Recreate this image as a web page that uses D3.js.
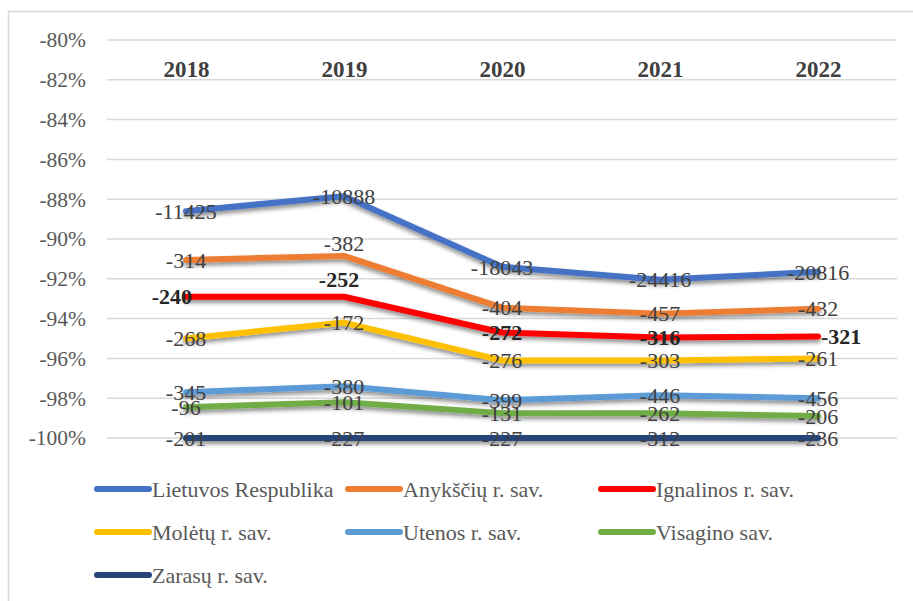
<!DOCTYPE html>
<html>
<head>
<meta charset="utf-8">
<script src="https://cdn.jsdelivr.net/npm/d3@7"></script>
<style>
  body { margin: 0; background: #fff; }
</style>
</head>
<body>
<svg></svg>
<script>
// years on the x axis
var years = ["2018", "2019", "2020", "2021", "2022"]
var yTicks = [-80, -82, -84, -86, -88, -90, -92, -94, -96, -98, -100]

var names = ["Lietuvos Respublika", "Anykščių r. sav.", "Ignalinos r. sav.",
             "Molėtų r. sav.", "Utenos r. sav.", "Visagino sav.", "Zarasų r. sav."]
var colors = ["#4472c4", "#ed7d31", "#ff0000", "#ffc000", "#5b9bd5", "#70ad47", "#264478"]

// percent change
var lietuva   = [-88.6, -87.85, -91.4, -92.05, -91.65]
var anyksciai = [-91.05, -90.85, -93.45, -93.75, -93.5]
var ignalina  = [-92.9, -92.9, -94.7, -94.95, -94.9]
var moletai   = [-95.0, -94.2, -96.1, -96.1, -96.0]
var utena     = [-97.7, -97.4, -98.1, -97.85, -98.0]
var visaginas = [-98.45, -98.2, -98.75, -98.75, -98.9]
var zarasai   = [-100, -100, -100, -100, -100]

// numbers printed next to points
var lietuvaLbl   = [-11425, -10888, -18043, -24416, -20816]
var anyksciaiLbl = [-314, -382, -404, -457, -432]
var ignalinaLbl  = [-240, -252, -272, -316, -321]
var moletaiLbl   = [-268, -172, -276, -303, -261]
var utenaLbl     = [-345, -380, -399, -446, -456]
var visaginasLbl = [-96, -101, -131, -262, -206]
var zarasaiLbl   = [-201, -227, -227, -312, -236]

var values = [lietuva, anyksciai, ignalina, moletai, utena, visaginas, zarasai]
var labels = [lietuvaLbl, anyksciaiLbl, ignalinaLbl, moletaiLbl, utenaLbl, visaginasLbl, zarasaiLbl]

var series = names.map(function(n, i) {
    return {
        name: n, color: colors[i], bold: i == 2,
        points: years.map(function(y, j) { return {year: y, v: values[i][j], lbl: labels[i][j]} })
    }
})

var serif = '"Liberation Serif", "Times New Roman", serif'
var screen = {width: 913, height: 601}
var svg = d3.select("svg").attr("width", screen.width).attr("height", screen.height)

var defs = svg.append("defs")
var f = defs.append("filter").attr("id", "shadow").attr("filterUnits", "userSpaceOnUse")
    .attr("x", 0).attr("y", 0).attr("width", screen.width).attr("height", screen.height)
f.append("feDropShadow").attr("dx", 0).attr("dy", 3).attr("stdDeviation", 2)
    .attr("flood-color", "#000").attr("flood-opacity", 0.45)

// outer chart border
svg.append("rect").attr("x", 8.5).attr("y", 11.5).attr("width", 930).attr("height", 620)
    .attr("fill", "none").attr("stroke", "#d9d9d9").attr("stroke-width", 1.5)

var xScale = d3.scalePoint().domain(years).range([107, 897]).padding(0.5)
var yScale = d3.scaleLinear().domain([-100, -80]).range([438, 40])

// gridlines
svg.append("g").selectAll("line").data(yTicks).enter().append("line")
    .attr("x1", 107).attr("x2", 897)
    .attr("y1", function(d) { return yScale(d) })
    .attr("y2", function(d) { return yScale(d) })
    .attr("stroke", "#d9d9d9").attr("stroke-width", 1.5)

// y axis labels
var yAxis = d3.axisLeft(yScale).tickValues(yTicks).tickSize(0).tickPadding(0)
    .tickFormat(function(d) { return d + "%" })
var yg = svg.append("g").attr("transform", "translate(86,0)").call(yAxis)
yg.select(".domain").remove()
yg.selectAll("text").style("font-family", serif).style("font-size", "21.5px")
    .attr("fill", "#595959")

// year labels along the top
var xAxis = d3.axisTop(xScale).tickSize(0).tickPadding(0)
var xg = svg.append("g").attr("transform", "translate(0,77)").call(xAxis)
xg.select(".domain").remove()
xg.selectAll("text").style("font-family", serif).style("font-size", "23px")
    .style("font-weight", "bold").attr("fill", "#404040")

var line = d3.line()
    .x(function(p) { return xScale(p.year) })
    .y(function(p) { return yScale(p.v) })

var lines = svg.append("g")
lines.selectAll("path").data(series.slice().reverse()).enter().append("path")
    .attr("d", function(s) { return line(s.points) })
    .attr("fill", "none")
    .attr("stroke", function(s) { return s.color })
    .attr("stroke-width", 6)
    .attr("stroke-linecap", "round")
    .attr("stroke-linejoin", "round")
    .attr("filter", "url(#shadow)")

// where the label sits relative to its point
var place = function(si, j) {
    if (si == 1 && j == 1) return "above"
    if (si == 2) return ["left", "above2", "center", "center", "right"][j]
    return "center"
}

var lbls = svg.append("g")
series.forEach(function(s, si) {
    lbls.selectAll(null).data(s.points).enter().append("text")
        .attr("x", function(p, j) {
            var pl = place(si, j), x = xScale(p.year)
            if (pl == "left") return x + 6
            if (pl == "right") return x + 3
            if (pl == "above2") return x - 5
            return x
        })
        .attr("y", function(p, j) {
            var pl = place(si, j), y = yScale(p.v)
            if (pl == "above") return y - 13
            if (pl == "above2") return y - 17
            return y
        })
        .attr("dy", "0.35em")
        .attr("text-anchor", function(p, j) {
            var pl = place(si, j)
            if (pl == "left") return "end"
            if (pl == "right") return "start"
            return "middle"
        })
        .style("font-family", serif)
        .style("font-size", "22px")
        .style("font-weight", s.bold ? "bold" : "normal")
        .attr("fill", s.bold ? "#262626" : "#404040")
        .text(function(p) { return p.lbl })
})

// legend, three per row
var leg = svg.append("g").selectAll("g").data(series).enter().append("g")
    .attr("transform", function(s, i) {
        return "translate(" + [94, 345, 598][i % 3] + "," + (489 + Math.floor(i / 3) * 43) + ")"
    })
leg.append("line").attr("x1", 3).attr("x2", 55).attr("y1", 0).attr("y2", 0)
    .attr("stroke", function(s) { return s.color })
    .attr("stroke-width", 6).attr("stroke-linecap", "round")
leg.append("text").attr("x", 58).attr("dy", "0.35em")
    .style("font-family", serif).style("font-size", "22px").attr("fill", "#595959")
    .text(function(s) { return s.name })
</script>
</body>
</html>
